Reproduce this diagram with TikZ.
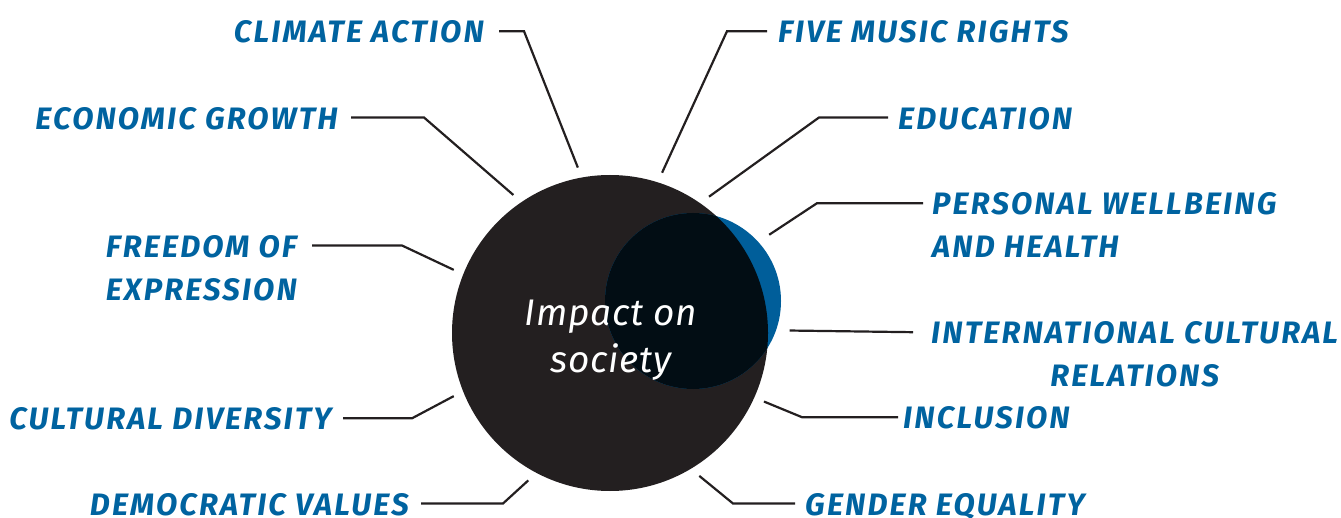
\documentclass[tikz,border=0pt]{standalone}
\usepackage{fontspec}
\setmainfont{Fira Sans}
\newfontfamily\labelfont[LetterSpace=7]{Fira Sans}
\newfontfamily\titlefont[LetterSpace=2]{Fira Sans}
\usepackage{tikz}
\usetikzlibrary{positioning}
\definecolor{labelblue}{RGB}{0,99,160}
\definecolor{circleblue}{RGB}{0,94,154}
\definecolor{circledark}{RGB}{35,31,32}
\definecolor{overlapdark}{RGB}{2,13,20}

\begin{document}
\begin{tikzpicture}[x=1pt,y=-1pt,
labelnode/.style={text=labelblue, font=\labelfont\fontsize{31}{43}\selectfont\bfseries\itshape, inner sep=0pt},
link/.style={draw=circledark, line width=2.2pt},
bigcircle/.style={circle, fill=circledark, minimum size=316pt, inner sep=0pt, outer sep=10.5pt},
smallcircle/.style={circle, fill=circleblue, minimum size=176pt, inner sep=0pt, outer sep=13pt}
]
\useasboundingbox (0,0) rectangle (1341,518);
\node[bigcircle] (impact) at (610,333) {};
\node[smallcircle] (core) at (693,301) {};
\begin{scope}
\clip (impact.center) circle (158pt);
\fill[overlapdark] (core.center) circle (88pt);
\end{scope}
\node[text=white, font=\titlefont\fontsize{37}{47.5}\selectfont\itshape, align=center] (title) at (611,340) {Impact on\\society};

\node[labelnode, anchor=north east] (climate) at (484,20.7) {CLIMATE ACTION};
\node[labelnode, anchor=north east] (economic) at (338,107) {ECONOMIC GROWTH};
\node[labelnode, anchor=north east, align=right] (freedom) at (297,235) {FREEDOM OF\\EXPRESSION};
\node[labelnode, anchor=north east] (diversity) at (331.7,407.7) {CULTURAL DIVERSITY};
\node[labelnode, anchor=north east] (democratic) at (409,493) {DEMOCRATIC VALUES};
\node[labelnode, anchor=north west] (music) at (778,20.7) {FIVE MUSIC RIGHTS};
\node[labelnode, anchor=north west] (education) at (898,107) {EDUCATION};
\node[labelnode, anchor=north west, align=left] (wellbeing) at (932,192.7) {PERSONAL WELLBEING\\AND HEALTH};
\node[labelnode, anchor=north west, align=center] (relations) at (931,321.7) {INTERNATIONAL CULTURAL\\RELATIONS};
\node[labelnode, anchor=north west] (inclusion) at (903,406.7) {INCLUSION};
\node[labelnode, anchor=north west] (gender) at (805,493) {GENDER EQUALITY};

\draw[link] ([xshift=15pt,yshift=-10.5pt]climate.north east) -- ++(25,0) -- (impact.101.5);
\draw[link] ([xshift=13pt,yshift=-10.5pt]economic.north east) -- ++(73,0) -- (impact.125);
\draw[link] ([xshift=15pt,yshift=-10.5pt]freedom.north east) -- ++(90,0) -- (impact.158.6);
\draw[link] ([xshift=11.5pt,yshift=-10.5pt]diversity.north east) -- ++(69,0) -- (impact.202);
\draw[link] ([xshift=12pt,yshift=-10.5pt]democratic.north east) -- ++(82,0) -- (impact.241.4);
\draw[link] ([xshift=-11pt,yshift=-10.5pt]music.north west) -- ++(-40,0) -- (impact.72.9);
\draw[link] ([xshift=-10pt,yshift=-10.5pt]education.north west) -- ++(-69,0) -- (impact.54.1);
\draw[link] ([xshift=-9pt,yshift=-10.5pt]wellbeing.north west) -- ++(-106,0) -- (core.41);
\draw[link] ([xshift=-18pt,yshift=-10.5pt]relations.north west) -- (core.-17.4);
\draw[link] ([xshift=-5pt,yshift=-10.5pt]inclusion.north west) -- ++(-96,0) -- (impact.-24);
\draw[link] ([xshift=-10pt,yshift=-10.5pt]gender.north west) -- ++(-62,0) -- (impact.-58.5);
\end{tikzpicture}
\end{document}
